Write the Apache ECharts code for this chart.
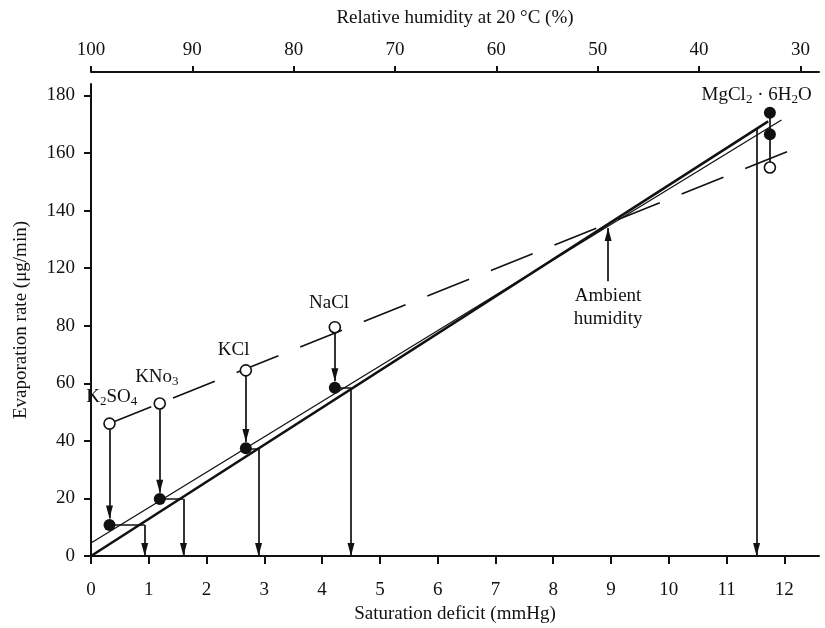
<!DOCTYPE html>
<html><head><meta charset="utf-8">
<script src="https://cdn.jsdelivr.net/npm/echarts@6/dist/echarts.min.js"></script>
<style>html,body{margin:0;padding:0;background:#fff}#c{width:825px;height:628px}</style>
</head><body><div id="c"></div>
<script>
// ---------------- data (values in axis units) ----------------
// Saturated salt solutions
const saltLabels   = ['K{s|2}SO{s|4}', 'KNo{s|3}', 'KCl', 'NaCl', 'MgCl{s|2} · 6H{s|2}O'];
const saltDeficit  = [0.32, 1.19, 2.68, 4.22, 11.75];   // saturation deficit (mmHg)
const openRate     = [46, 53, 64.5, 79.5, 135];         // open circles
const filledRate   = [10.8, 19.8, 37.4, 58.5, 154];     // filled circles
const extraFilled  = [[11.75, 146.5]];                  // second MgCl2 filled point
const stepRate     = [10.8, 19.8, 37.4, 58.5, 148.5];   // level carried to the fitted line
const dropDeficit  = [0.93, 1.6, 2.9, 4.5, 11.52];      // corrected deficit (arrow to x axis)
// fitted lines
const thickFit  = [[0, 0], [11.72, 151]];
const thinFit   = [[0, 4.5], [11.95, 151.5]];
const dashedFit = [[0.32, 46], [12.05, 140.5]];
// ambient humidity marker
const ambientDeficit = 8.95, ambientFrom = 95.5, ambientTo = 114;
// axes
const yTickValues = [0, 20, 40, 60, 80, 100, 120, 140, 160];
const yTickLabels = ['0', '20', '40', '60', '80', '120', '140', '160', '180'];
const xTickValues = [0, 1, 2, 3, 4, 5, 6, 7, 8, 9, 10, 11, 12];
const rhTicks = [100, 90, 80, 70, 60, 50, 40, 30];       // relative humidity (%)
const satVP20 = 17.54;                                   // saturation vapour pressure at 20 °C (mmHg)

// ---------------- chart ----------------
const INK = '#111';
const FONT = 'Liberation Serif';
const rhToDeficit = r => (100 - r) / 100 * satVP20;
const rhDeficits = rhTicks.map(rhToDeficit);

const segments = [];
const downTips = [];
for (let i = 0; i < 4; i++) {
  const x = saltDeficit[i];
  segments.push({coords: [[x, openRate[i] - 2], [x, filledRate[i] + 2.2]]});
  downTips.push([x, filledRate[i] + 2.2]);
  segments.push({coords: [[x, stepRate[i]], [dropDeficit[i], stepRate[i]]]});
}
for (let i = 0; i < 5; i++) {
  segments.push({coords: [[dropDeficit[i], stepRate[i]], [dropDeficit[i], 0]]});
  downTips.push([dropDeficit[i], 0]);
}
segments.push({coords: [[saltDeficit[4], openRate[4]], [saltDeficit[4], filledRate[4]]]});
segments.push({coords: [[ambientDeficit, ambientFrom], [ambientDeficit, ambientTo]]});

const labelAnchors = [[0.36, 55.2], [1.14, 62.2], [2.47, 71.5], [4.12, 87.8], [11.52, 160]];

const chart = echarts.init(document.getElementById('c'), null, {renderer: 'canvas'});
const axisFont = {fontFamily: FONT, fontSize: 19, color: INK};
const solid = {color: INK, opacity: 1};
chart.setOption({
  backgroundColor: '#fff',
  animation: false,
  grid: {left: 91, right: 6, top: 84, bottom: 72, containLabel: false, outerBoundsMode: 'none'},
  xAxis: [{
    type: 'value', position: 'bottom', min: 0, max: 12.6,
    name: 'Saturation deficit (mmHg)', nameLocation: 'middle', nameGap: 49,
    nameTextStyle: axisFont,
    axisLine: {show: true, lineStyle: {color: INK, width: 2}},
    axisTick: {show: true, length: 8, lineStyle: {color: INK, width: 2}, customValues: xTickValues},
    axisLabel: Object.assign({margin: 25, customValues: xTickValues}, axisFont),
    splitLine: {show: false}
  }, {
    type: 'value', position: 'top', min: 0, max: 12.6, offset: 12,
    name: 'Relative humidity at 20 °C (%)', nameLocation: 'middle', nameGap: 44,
    nameTextStyle: axisFont,
    axisLine: {show: true, onZero: false, lineStyle: {color: INK, width: 2}},
    axisTick: {show: true, length: 6, lineStyle: {color: INK, width: 2}, customValues: rhDeficits},
    axisLabel: Object.assign({margin: 12, customValues: rhDeficits,
      formatter: v => String(Math.round(100 - v / satVP20 * 100))}, axisFont),
    splitLine: {show: false}
  }],
  yAxis: {
    type: 'value', min: 0, max: 164,
    name: 'Evaporation rate (μg/min)', nameLocation: 'middle', nameGap: 60, nameRotate: 90,
    nameTextStyle: axisFont,
    axisLine: {show: true, onZero: false, lineStyle: {color: INK, width: 2}},
    axisTick: {show: true, length: 7, lineStyle: {color: INK, width: 2}, customValues: yTickValues},
    axisLabel: Object.assign({margin: 16, customValues: yTickValues,
      formatter: v => yTickLabels[yTickValues.indexOf(v)]}, axisFont),
    splitLine: {show: false}
  },
  series: [
    {type: 'line', data: thickFit, symbol: 'none', lineStyle: {color: INK, width: 2.6, opacity: 1}, z: 3},
    {type: 'line', data: thinFit, symbol: 'none', lineStyle: {color: INK, width: 1.3, opacity: 1}, z: 3},
    {type: 'line', data: dashedFit, symbol: 'none', lineStyle: {color: INK, width: 1.6, type: [45, 23.5], opacity: 1}, z: 3},
    {type: 'lines', coordinateSystem: 'cartesian2d', data: segments,
      lineStyle: {color: INK, width: 1.7, opacity: 1}, symbol: 'none', z: 4},
    {type: 'scatter', data: downTips, symbol: 'path://M0,0L10,0L5,24Z', symbolSize: [7, 13],
      symbolOffset: [0, '-50%'], itemStyle: solid, z: 5},
    {type: 'scatter', data: [[ambientDeficit, ambientTo]], symbol: 'path://M5,0L10,24L0,24Z', symbolSize: [7, 13],
      symbolOffset: [0, '50%'], itemStyle: solid, z: 5},
    {type: 'scatter', data: saltDeficit.map((x, i) => [x, openRate[i]]), symbol: 'circle', symbolSize: 11,
      itemStyle: {color: '#fff', borderColor: INK, borderWidth: 1.6, opacity: 1}, z: 6},
    {type: 'scatter', data: saltDeficit.map((x, i) => [x, filledRate[i]]).concat(extraFilled), symbol: 'circle',
      symbolSize: 12, itemStyle: solid, z: 6},
    {type: 'scatter', symbolSize: 0, z: 7, silent: true, itemStyle: solid,
      data: labelAnchors.map((p, i) => ({value: p, label: {formatter: saltLabels[i]}})),
      label: {show: true, position: 'inside', color: INK, opacity: 1, fontFamily: FONT, fontSize: 19,
        rich: {s: {fontFamily: FONT, fontSize: 13, color: INK, padding: [9, 0, 0, 0]}}}},
    {type: 'scatter', symbolSize: 0, z: 7, silent: true, itemStyle: solid,
      data: [{value: [ambientDeficit, 86.3], label: {formatter: 'Ambient\nhumidity'}}],
      label: {show: true, position: 'inside', color: INK, opacity: 1, fontFamily: FONT, fontSize: 19, lineHeight: 23}}
  ]
});
</script></body></html>
